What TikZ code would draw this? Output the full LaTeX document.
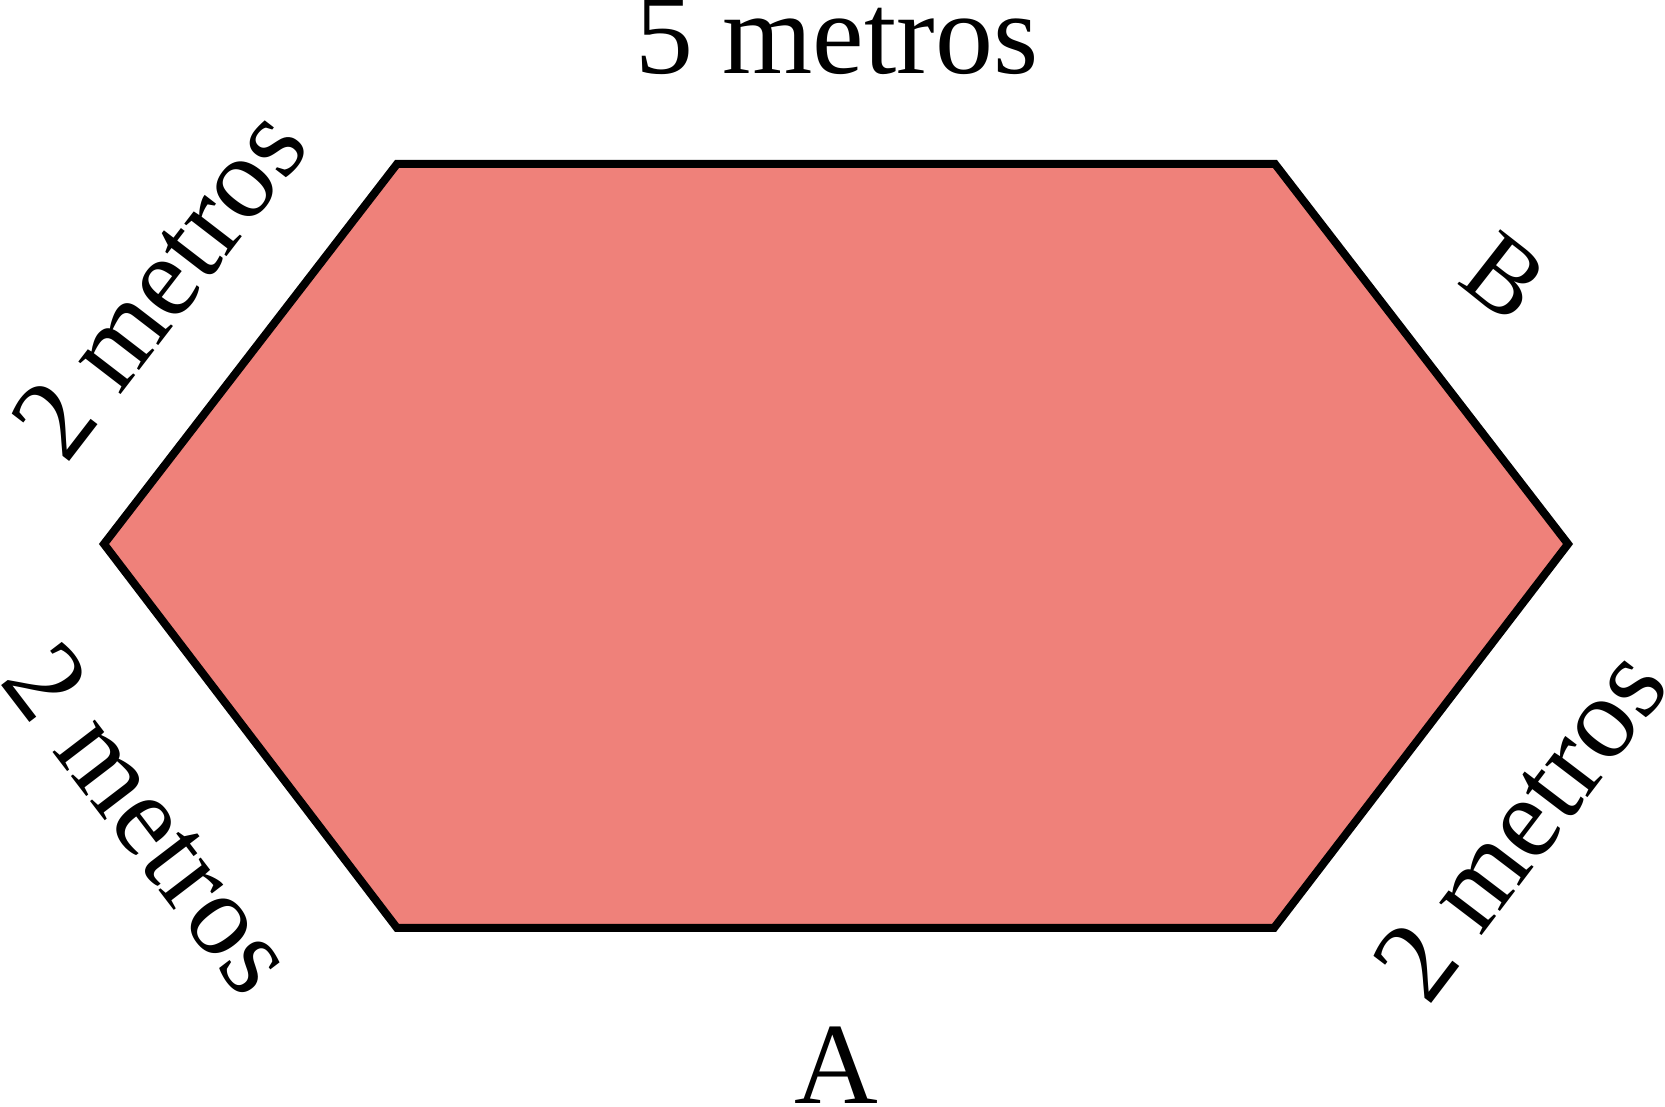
\documentclass[tikz,border=0pt]{standalone}
\usepackage{fontspec}
\setmainfont{Liberation Serif}
\definecolor{hexfill}{HTML}{EF817A}
\begin{document}
\begin{tikzpicture}[x=1pt,y=1pt,
  lbl/.style={inner sep=0pt,font=\fontsize{116}{120}\selectfont},
  hexedge/.style={draw=black,line width=8pt,fill=hexfill,line join=miter}]
\useasboundingbox (0,0) rectangle (1665,1106);
\coordinate (p1) at (397,942);
\coordinate (p2) at (1275,942);
\coordinate (p3) at (1568,562);
\coordinate (p4) at (1274,178);
\coordinate (p5) at (397,178);
\coordinate (p6) at (104,562);
\path[hexedge] (p1) -- (p2) -- (p3) -- (p4) -- (p5) -- (p6) -- cycle;
\node[lbl,anchor=base] (top) at (837,1032) {5 metros};
\node[lbl,anchor=base] (la) at (836,3) {A};
\node[lbl,rotate=52.4] (lt) at (159,823) {2 metros};
\node[lbl,rotate=-52.6] (lb) at (151,288) {2 metros};
\node[lbl,rotate=52.7] (rb) at (1520,282) {2 metros};
\node[lbl,rotate=-38,font=\fontsize{106}{110}\selectfont] (lbB) at (1505,829) {B};
\end{tikzpicture}
\end{document}
